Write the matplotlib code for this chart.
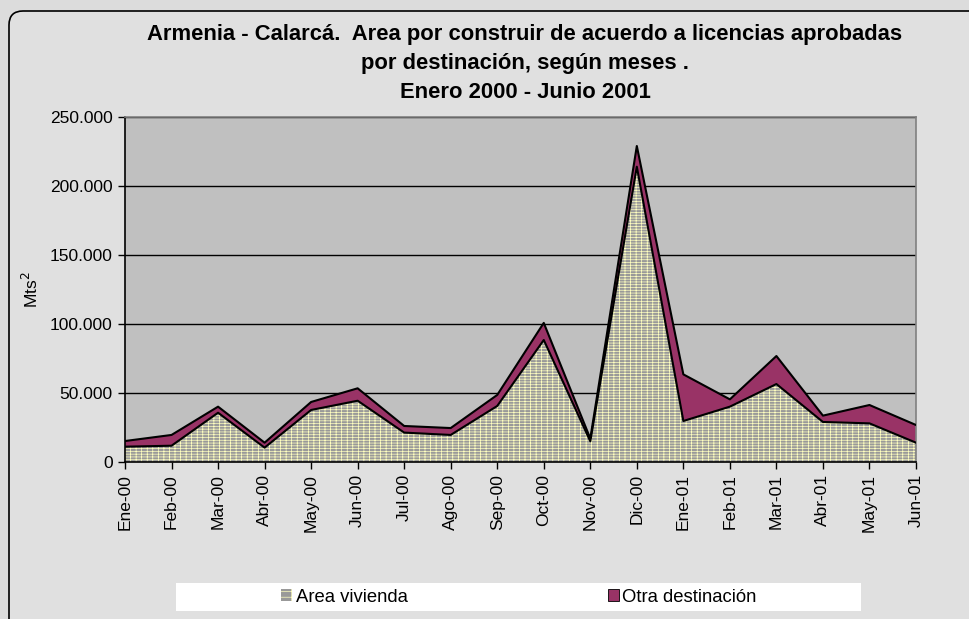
import matplotlib
matplotlib.use("Agg")
import matplotlib.pyplot as plt
import numpy as np
from matplotlib.patches import FancyBboxPatch, Rectangle, Patch
from matplotlib.ticker import FuncFormatter

plt.rcParams["font.family"] = ["Liberation Sans", "DejaVu Sans"]
plt.rcParams["hatch.linewidth"] = 0.5

months = ["Ene-00", "Feb-00", "Mar-00", "Abr-00", "May-00", "Jun-00",
          "Jul-00", "Ago-00", "Sep-00", "Oct-00", "Nov-00", "Dic-00",
          "Ene-01", "Feb-01", "Mar-01", "Abr-01", "May-01", "Jun-01"]
area_vivienda = [11100, 11800, 35700, 10400, 37700, 44400,
                 21300, 19600, 40600, 88400, 15000, 214000,
                 29700, 40100, 56500, 29000, 28000, 14000]
otra_destinacion = [4100, 7800, 4400, 3600, 5800, 9000,
                    4800, 5000, 8000, 12400, 2000, 15000,
                    33800, 5300, 20300, 4600, 13300, 12800]
y_ticks = [0, 50000, 100000, 150000, 200000, 250000]

title = ("Armenia - Calarcá.  Area por construir de acuerdo a licencias aprobadas\n"
         "por destinación, según meses .\n"
         "Enero 2000 - Junio 2001")

W, H = 969, 619
fig = plt.figure(figsize=(W / 100, H / 100), dpi=100)
fig.patch.set_facecolor("#dcdcdc")

# outer chart frame with rounded corners (runs off the right/bottom edge)
frame = FancyBboxPatch((9 / 100, -0.5), 11, (H - 11) / 100 + 0.5,
                       boxstyle="round,pad=0,rounding_size=0.14",
                       transform=fig.dpi_scale_trans, facecolor="#e0e0e0",
                       edgecolor="black", linewidth=1.2, zorder=0)
fig.patches.append(frame)

ax = fig.add_axes([125 / W, (H - 462) / H, (916 - 125) / W, (462 - 117) / H])
ax.set_zorder(3)
ax.set_facecolor("#c0c0c0")

x = np.arange(len(months))
viv = np.array(area_vivienda)
total = viv + np.array(otra_destinacion)

brick = "------|||"
ax.fill_between(x, 0, viv, facecolor="#999999", edgecolor="#ffffc0",
                hatch=brick, linewidth=0, zorder=2)
ax.fill_between(x, viv, total, facecolor="#993366", linewidth=0, zorder=2)
ax.plot(x, viv, color="black", linewidth=1.5, zorder=3)
ax.plot(x, total, color="black", linewidth=1.5, zorder=3)

ax.set_xlim(0, len(months) - 1)
ax.set_ylim(0, 250000)
ax.set_yticks(y_ticks)
ax.yaxis.set_major_formatter(FuncFormatter(lambda v, p: f"{v:,.0f}".replace(",", ".")))
ax.set_xticks(x)
ax.set_xticklabels(months, rotation=90)
ax.tick_params(axis="both", direction="out", length=5, width=1, labelsize=12.5,
               color="black", labelcolor="black")
ax.tick_params(axis="y", pad=4)
ax.grid(axis="y", color="black", linewidth=1)
ax.set_axisbelow(True)
for side in ("left", "bottom"):
    ax.spines[side].set_color("black")
    ax.spines[side].set_linewidth(1.2)
for side in ("top", "right"):
    ax.spines[side].set_color("#808080")
    ax.spines[side].set_linewidth(1.2)
ax.set_ylabel("Mts$^{2}$", fontsize=12.5, labelpad=6)

fig.text(525 / W, 1 - 24 / H, title, ha="center", va="top", fontsize=15.8,
         fontweight="bold", linespacing=1.5)

# legend: white strip with the two series
fig.patches.append(Rectangle((176 / W, 1 - 611 / H), (861 - 176) / W, 28 / H,
                             transform=fig.transFigure, facecolor="white",
                             edgecolor="none", zorder=1))
handles = [Patch(facecolor="#999999", edgecolor="#ffffc0", hatch="---|", linewidth=0),
           Patch(facecolor="#993366", edgecolor="black", linewidth=0.6)]
leg = fig.legend(handles, ["Area vivienda", "Otra destinación"], ncol=2,
                 loc="center", bbox_to_anchor=(519 / W, 1 - 597 / H), frameon=False,
                 fontsize=13.3, handlelength=0.6, handleheight=0.6, handletextpad=0.2,
                 columnspacing=10.8)
leg.set_zorder(4)

fig.savefig("out.png", dpi=100, facecolor=fig.get_facecolor())
